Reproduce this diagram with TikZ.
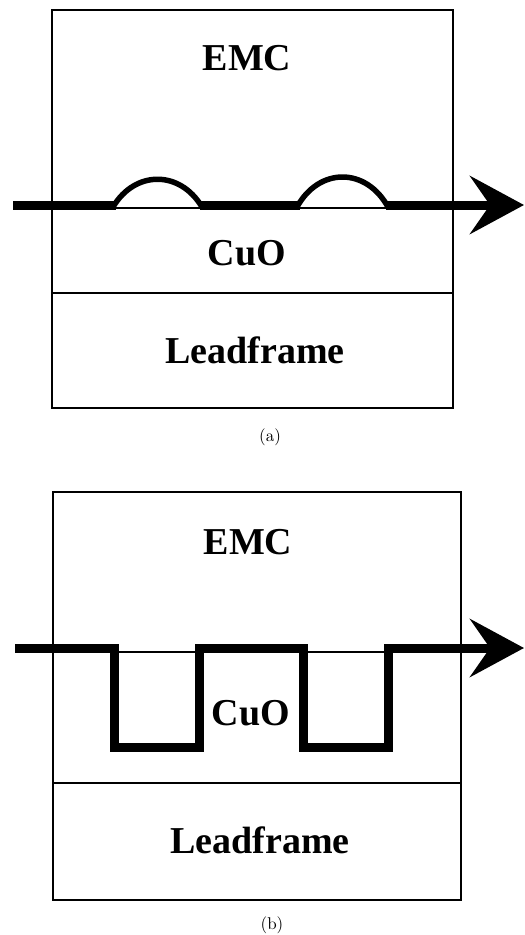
\documentclass[tikz,border=0pt]{standalone}
\usepackage{fontspec}
\newfontfamily\layerfont{Liberation Serif}
\usetikzlibrary{arrows.meta}
\newcommand{\subcaptext}[1]{\scalebox{1.7}{#1}}
\tikzset{
layer/.style={font=\layerfont\bfseries\fontsize{38}{40}\selectfont},
subcap/.style={inner sep=0pt},
frame/.style={draw,line width=1.6pt},
bond/.style={line width=9pt},
tip/.style={-{Stealth[length=54pt,width=58pt,inset=20pt]}},
hump/.style={line width=5.5pt}
}

\begin{document}
\begin{tikzpicture}[x=1pt,y=-1pt]
\useasboundingbox (0,0) rectangle (525,935);
% panel (a): the layers
\draw[frame] (52,10) rectangle (453,408);
\draw[frame] (52,208) -- (453,208);
\draw[frame] (52,293) -- (453,293);
\node[layer] (emcA) at (247,58) {EMC};
\node[layer] (cuoA) at (247,253) {CuO};
\node[layer] (leadA) at (255,350) {Leadframe};
\node[subcap] (capA) at (270,437) {\subcaptext{(a)}};
% the crack path
\coordinate (inA) at (13,205);
\coordinate (h1s) at (116,205);
\coordinate (h1e) at (200,205);
\coordinate (h2s) at (300,205);
\coordinate (h2e) at (386,205);
\coordinate (outA) at (524,205);
\draw[bond] (inA) -- (h1s);
\draw[bond] (h1e) -- (h2s);
\draw[bond,tip] (h2e) -- (outA);
\draw[hump] ([shift={(-3,2)}]h1s) .. controls (135,170) and (180,170) .. ([shift={(2,2)}]h1e);
\draw[hump] ([shift={(-3,2)}]h2s) .. controls (319,167) and (366,167) .. ([shift={(2,2)}]h2e);
% panel (b): the layers
\draw[frame] (53,492) rectangle (461,900);
\draw[frame] (53,652) -- (461,652);
\draw[frame] (53,783) -- (461,783);
\node[layer] (emcB) at (248,542) {EMC};
\node[layer] (cuoB) at (251,713) {CuO};
\node[layer] (leadB) at (260,840) {Leadframe};
\node[subcap] (capB) at (272,925) {\subcaptext{(b)}};
% the crack path
\coordinate (inB) at (15,648);
\coordinate (outB) at (524,648);
\draw[bond,tip] (inB) -| (114,747) -| (199,648) -| (303,747) -| (388,648) -- (outB);
\end{tikzpicture}
\end{document}
